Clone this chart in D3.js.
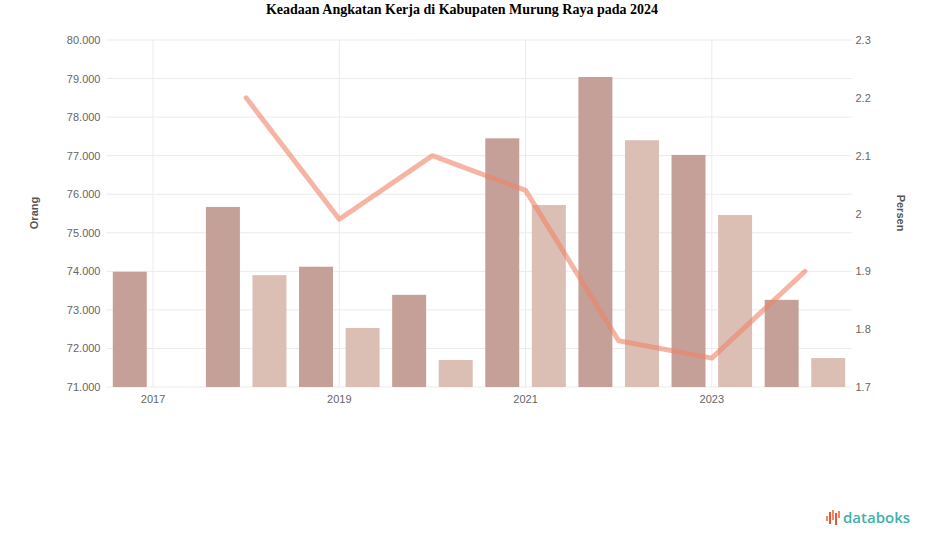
<!DOCTYPE html>
<html><head><meta charset="utf-8">
<script src="https://cdn.jsdelivr.net/npm/d3@7"></script>
<style>body{margin:0;background:#fff}svg{display:block}</style>
</head><body>
<svg id="c" width="925" height="547"></svg>
<script>
const years = ["2017","2018","2019","2020","2021","2022","2023","2024"];
const tickYears = ["2017","2019","2021","2023"];
const angkatanKerja = [73990, 75670, 74120, 73390, 77450, 79040, 77020, 73260];
const bekerja = [null, 73900, 72530, 71700, 75720, 77400, 75460, 71750];
const tpt = [null, 2.2, 1.99, 2.1, 2.04, 1.78, 1.75, 1.9];
const leftTicks = [71000,72000,73000,74000,75000,76000,77000,78000,79000,80000];
const rightTicks = [1.7,1.8,1.9,2,2.1,2.2,2.3];
const seriesNames = ["Angkatan Kerja","Bekerja"];

const svg = d3.select("#c");
const m = {l:106.5, r:851.5, t:40, b:387};
const x = d3.scaleBand().domain(years).range([m.l, m.r]).padding(0);
const xi = d3.scaleBand().domain(seriesNames).range([0, x.bandwidth()]).paddingInner(0.27).paddingOuter(0.135);
const y = d3.scaleLinear().domain([71000, 80000]).range([m.b, m.t]);
const y2 = d3.scaleLinear().domain([1.7, 2.3]).range([m.b, m.t]);

svg.append("text").attr("x", 462).attr("y", 14).attr("text-anchor","middle")
  .style("font-family","'Liberation Serif','Times New Roman',serif").style("font-weight","bold").style("font-size","14px")
  .text("Keadaan Angkatan Kerja di Kabupaten Murung Raya pada 2024");

// grid
svg.append("g").selectAll("line").data(leftTicks).join("line")
  .attr("x1", m.l).attr("x2", m.r).attr("y1", d=>y(d)).attr("y2", d=>y(d))
  .attr("stroke","#ebebeb").attr("stroke-width",1);
svg.append("g").selectAll("line").data(tickYears).join("line")
  .attr("x1", d=>x(d)+x.bandwidth()/2).attr("x2", d=>x(d)+x.bandwidth()/2)
  .attr("y1", m.t).attr("y2", m.b).attr("stroke","#ebebeb");

// axes
const fmt = d3.formatLocale({decimal:",", thousands:".", grouping:[3], currency:["",""]});
const yAxis = d3.axisLeft(y).tickValues(leftTicks).tickFormat(fmt.format(",")).tickSize(0).tickPadding(6);
const gy = svg.append("g").attr("transform",`translate(${m.l},0)`).call(yAxis);
gy.select(".domain").remove();
gy.selectAll("text").style("font-family","'Liberation Sans',Arial,sans-serif").style("font-size","11px").attr("fill","#666");

const y2Axis = d3.axisRight(y2).tickValues(rightTicks).tickFormat(d=>String(+d.toFixed(1))).tickSize(0).tickPadding(6);
const gy2 = svg.append("g").attr("transform",`translate(${m.r-2},0)`).call(y2Axis);
gy2.select(".domain").remove();
gy2.selectAll("text").style("font-family","'Liberation Sans',Arial,sans-serif").style("font-size","11px").attr("fill","#666");

const xAxis = d3.axisBottom(x).tickValues(tickYears).tickSize(0).tickPadding(8);
const gx = svg.append("g").attr("transform",`translate(0,${m.b})`).call(xAxis);
gx.select(".domain").remove();
gx.selectAll("text").style("font-family","'Liberation Sans',Arial,sans-serif").style("font-size","11px").attr("fill","#666");

svg.append("text").attr("transform","translate(38,213) rotate(-90)").attr("text-anchor","middle")
  .style("font-family","'Liberation Sans',Arial,sans-serif").style("font-size","11px").style("font-weight","bold").attr("fill","#555").text("Orang");
svg.append("text").attr("transform","translate(897,213) rotate(90)").attr("text-anchor","middle")
  .style("font-family","'Liberation Sans',Arial,sans-serif").style("font-size","11px").style("font-weight","bold").attr("fill","#555").text("Persen");

// bars
const colors = {"Angkatan Kerja":"#c4a098", "Bekerja":"#dbbfb5"};
const barData = [];
years.forEach((yr,i)=>{
  if (angkatanKerja[i]!=null) barData.push({yr, s:"Angkatan Kerja", v:angkatanKerja[i]});
  if (bekerja[i]!=null) barData.push({yr, s:"Bekerja", v:bekerja[i]});
});
svg.append("g").selectAll("rect").data(barData).join("rect")
  .attr("x", d=>x(d.yr)+xi(d.s)).attr("width", xi.bandwidth())
  .attr("y", d=>y(d.v)).attr("height", d=>y(71000)-y(d.v))
  .attr("fill", d=>colors[d.s]);

// line
const lineData = years.map((yr,i)=>({yr, v:tpt[i]})).filter(d=>d.v!=null);
svg.append("path").datum(lineData)
  .attr("d", d3.line().x(d=>x(d.yr)+x.bandwidth()/2).y(d=>y2(d.v)))
  .attr("fill","none").attr("stroke","#f08468").attr("stroke-opacity",0.6).attr("stroke-width",5)
  .attr("stroke-linejoin","round").attr("stroke-linecap","round");

// logo
const lg = svg.append("g").attr("transform","translate(826,510)");
const icon = [[0,6,5,"#f08a5d"],[3,2,12,"#e8563a"],[6,0,10,"#f08a5d"],[9,3,12,"#e8563a"],[12,1,7,"#f08a5d"]];
lg.selectAll("rect").data(icon).join("rect").attr("x",d=>d[0]).attr("y",d=>d[1]).attr("width",2).attr("height",d=>d[2]).attr("fill",d=>d[3]);
lg.append("text").attr("x",17).attr("y",13).style("font-family","'Open Sans','Liberation Sans',sans-serif")
  .style("font-size","15px").style("font-weight","600").attr("fill","#3eb2ad").text("databoks");
</script>
</body></html>
